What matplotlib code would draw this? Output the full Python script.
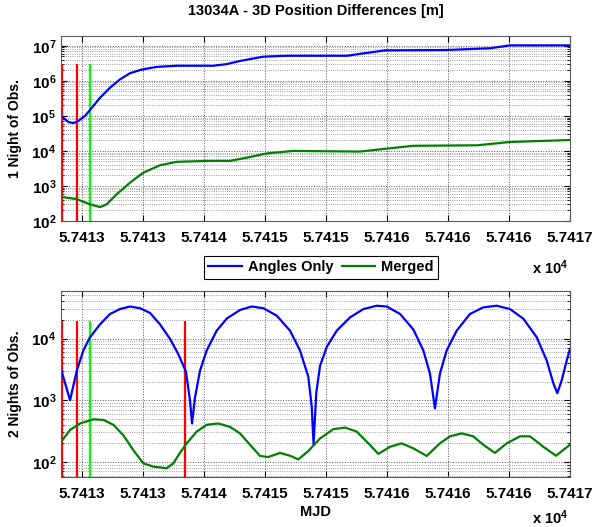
import numpy as np
import matplotlib.pyplot as plt
from matplotlib.ticker import LogLocator, NullFormatter, NullLocator

plt.rcParams['font.family'] = ['Liberation Sans', 'DejaVu Sans']
plt.rcParams['font.weight'] = 'bold'
plt.rcParams['mathtext.fontset'] = 'custom'
plt.rcParams['mathtext.rm'] = 'Liberation Sans:bold'
plt.rcParams['mathtext.it'] = 'Liberation Sans:bold'
plt.rcParams['mathtext.bf'] = 'Liberation Sans:bold'

# ---- data (MJD, position difference [m]) ----
top_angles_mjd = [57412.828, 57412.888, 57412.929, 57412.970, 57413.025, 57413.080,
                  57413.148, 57413.230, 57413.311, 57413.393, 57413.489, 57413.612,
                  57413.776, 57414.076, 57414.186, 57414.295, 57414.486, 57414.678,
                  57415.172, 57415.279, 57415.484, 57415.992, 57416.344, 57416.508,
                  57417.000]
top_angles = [1.0e5, 6.7e4, 6.2e4, 7.2e4, 1.0e5, 1.7e5,
              3.3e5, 6.4e5, 1.1e6, 1.65e6, 2.1e6, 2.5e6,
              2.7e6, 2.7e6, 3.0e6, 3.7e6, 4.9e6, 5.2e6,
              5.2e6, 5.9e6, 7.4e6, 7.6e6, 8.5e6, 1.03e7,
              1.03e7]

top_merged_mjd = [57412.828, 57412.957, 57413.066, 57413.148, 57413.202, 57413.284,
                  57413.393, 57413.502, 57413.639, 57413.776, 57414.049, 57414.213,
                  57414.350, 57414.514, 57414.732, 57415.279, 57415.484, 57415.713,
                  57416.238, 57416.508, 57417.000]
top_merged = [4.9e2, 4.2e2, 3.0e2, 2.5e2, 3.0e2, 5.8e2,
              1.24e3, 2.4e3, 3.9e3, 4.9e3, 5.2e3, 5.2e3,
              6.4e3, 8.5e3, 1.0e4, 9.6e3, 1.15e4, 1.4e4,
              1.45e4, 1.8e4, 2.05e4]

bot_angles_mjd = [57412.828, 57412.902, 57412.957, 57413.011, 57413.066, 57413.148,
                  57413.230, 57413.311, 57413.393, 57413.475, 57413.557, 57413.639,
                  57413.721, 57413.789, 57413.852, 57413.885, 57413.902, 57413.926,
                  57413.967, 57414.022, 57414.104, 57414.186, 57414.295, 57414.391,
                  57414.486, 57414.596, 57414.705, 57414.787, 57414.855, 57414.883,
                  57414.898, 57414.920, 57414.951, 57415.006, 57415.088, 57415.197,
                  57415.306, 57415.416, 57415.498, 57415.607, 57415.716, 57415.798,
                  57415.852, 57415.893, 57415.934, 57415.989, 57416.071, 57416.180,
                  57416.289, 57416.399, 57416.508, 57416.617, 57416.727, 57416.809,
                  57416.863, 57416.896, 57416.932, 57416.973, 57417.000]
bot_angles = [3.2e3, 1.0e3, 3.0e3, 6.4e3, 1.05e4, 1.7e4,
              2.5e4, 3.0e4, 3.3e4, 3.1e4, 2.6e4, 1.7e4,
              9.9e3, 5.6e3, 2.9e3, 1.0e3, 4.2e2, 1.1e3,
              3.0e3, 6.4e3, 1.34e4, 2.1e4, 2.9e4, 3.3e4,
              3.1e4, 2.35e4, 1.34e4, 6.4e3, 2.4e3, 7.8e2,
              1.9e2, 1.3e3, 3.6e3, 7.3e3, 1.34e4, 2.2e4,
              3.0e4, 3.4e4, 3.3e4, 2.5e4, 1.4e4, 6.4e3,
              2.7e3, 7.4e2, 2.7e3, 6.4e3, 1.34e4, 2.5e4,
              3.2e4, 3.4e4, 3.0e4, 2.1e4, 1.05e4, 4.4e3,
              1.9e3, 1.3e3, 2.1e3, 4.4e3, 6.8e3]

bot_merged_mjd = [57412.828, 57412.902, 57412.984, 57413.093, 57413.175, 57413.257,
                  57413.339, 57413.420, 57413.502, 57413.584, 57413.694, 57413.748,
                  57413.803, 57413.858, 57413.940, 57414.022, 57414.117, 57414.213,
                  57414.295, 57414.377, 57414.459, 57414.527, 57414.623, 57414.705,
                  57414.773, 57414.855, 57414.951, 57415.060, 57415.156, 57415.252,
                  57415.347, 57415.429, 57415.525, 57415.620, 57415.716, 57415.825,
                  57415.934, 57416.016, 57416.112, 57416.207, 57416.289, 57416.385,
                  57416.481, 57416.590, 57416.672, 57416.781, 57416.885, 57417.000]
bot_merged = [210, 330, 420, 490, 480, 400,
              270, 156, 95, 84, 79, 95,
              140, 200, 310, 400, 420, 370,
              290, 190, 125, 120, 140, 126,
              110, 150, 240, 340, 360, 310,
              200, 135, 176, 200, 166, 125,
              200, 260, 290, 260, 190, 140,
              200, 260, 260, 176, 126, 190]

top_red = [57412.832, 57412.959]
top_green = [57413.066]
bot_red = [57412.832, 57412.959, 57413.844]
bot_green = [57413.066]

xtick_pos = [57413.0, 57413.5, 57414.0, 57414.5, 57415.0, 57415.5, 57416.0, 57416.5, 57417.0]
xtick_labels = ['5.7413', '5.7413', '5.7414', '5.7415', '5.7415',
                '5.7416', '5.7416', '5.7416', '5.7417']

fs = 11
fig = plt.figure(figsize=(6, 5.27), dpi=100)
ax1 = fig.add_axes([0.1017, 0.5806, 0.8483, 0.351])
ax2 = fig.add_axes([0.1017, 0.0949, 0.8483, 0.353])


def style(ax, ylim, yticks):
    ax.set_yscale('log')
    ax.set_xlim(57412.828, 57417.0)
    ax.set_ylim(*ylim)
    ax.set_xticks(xtick_pos, labels=xtick_labels)
    ax.xaxis.set_minor_locator(NullLocator())
    ax.set_yticks(yticks, labels=[r'$10^{%d}$' % int(np.log10(t)) for t in yticks])
    ax.yaxis.set_minor_locator(LogLocator(base=10, subs=np.arange(2, 10), numticks=20))
    ax.yaxis.set_minor_formatter(NullFormatter())
    ax.tick_params(which='both', direction='in', top=True, right=True,
                   labelsize=fs, colors='black')
    ax.tick_params(which='major', length=4)
    ax.tick_params(which='minor', length=2)
    ax.tick_params(axis='x', pad=7)
    ax.grid(True, which='major', ls=':', color='0.35', lw=0.7)
    ax.grid(True, which='minor', axis='y', ls=':', color='0.5', lw=0.6)
    for s in ax.spines.values():
        s.set_color('0.35')
    ax.set_axisbelow(True)


style(ax1, (1e2, 1.9e7), [1e2, 1e3, 1e4, 1e5, 1e6, 1e7])
style(ax2, (57, 5.9e4), [1e2, 1e3, 1e4])

ax1.vlines(top_red, 1e2, 3.1e6, color='#ff0000', lw=1.6)
ax1.vlines(top_green, 1e2, 3.1e6, color='#00ff00', lw=1.6)
ax1.plot(top_angles_mjd, top_angles, color='#0000ff', lw=1.6, label='Angles Only')
ax1.plot(top_merged_mjd, top_merged, color='#008000', lw=1.6, label='Merged')

ax2.vlines(bot_red, 57, 1.9e4, color='#ff0000', lw=1.6)
ax2.vlines(bot_green, 57, 1.9e4, color='#00ff00', lw=1.6)
ax2.plot(bot_angles_mjd, bot_angles, color='#0000ff', lw=1.6)
ax2.plot(bot_merged_mjd, bot_merged, color='#008000', lw=1.6)

ax1.set_title('13034A - 3D Position Differences [m]', fontsize=10.5, fontweight='bold', pad=15)
ax1.set_ylabel('1 Night of Obs.', fontsize=10, fontweight='bold')
ax2.set_ylabel('2 Nights of Obs.', fontsize=10, fontweight='bold')
ax1.yaxis.set_label_coords(-0.077, 0.5)
ax2.yaxis.set_label_coords(-0.077, 0.5)
ax2.set_xlabel('MJD', fontsize=10.5, fontweight='bold', labelpad=3)

fig.text(550 / 600, 1 - 268 / 527, r'x 10$^{4}$', fontsize=10.5, fontweight='bold',
         ha='center', va='center')
fig.text(550 / 600, 1 - 518 / 527, r'x 10$^{4}$', fontsize=10.5, fontweight='bold',
         ha='center', va='center')

leg = fig.legend(loc='center', bbox_to_anchor=(321 / 600, 1 - 267.5 / 527), ncol=2,
                 fontsize=10.5, fancybox=False, handlelength=2.3, columnspacing=0.6,
                 handletextpad=0.4, borderpad=0.3, edgecolor='black', framealpha=1)
leg.get_frame().set_linewidth(0.8)

plt.savefig('out.png', dpi=100)
